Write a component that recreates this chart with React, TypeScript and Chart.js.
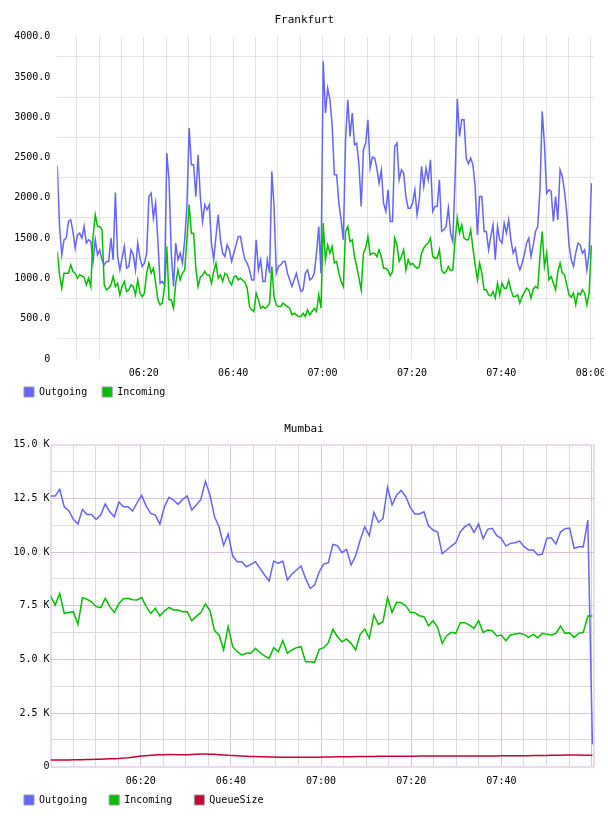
import React, { useEffect, useRef } from 'react';
import { Chart, registerables } from 'chart.js';

Chart.register(...registerables);

const FONT = '"DejaVu Sans Mono", monospace';

// ---------- Frankfurt (minutes after 06:00, 30 s samples) ----------
const fraStartMin = 0.65;
const fraStepMin = 0.5;
const fraOutgoing = [
  2398, 1645, 1293, 1479, 1500, 1707, 1727, 1583, 1376, 1541,
  1562, 1500, 1645, 1438, 1479, 1458, 1210, 1479, 1293, 1355,
  1231, 1169, 1210, 1210, 1500, 1231, 2067, 1272, 1106, 1251,
  1396, 1127, 1148, 1355, 1293, 1106, 1438, 1251, 1148, 1189,
  1313, 2017, 2059, 1748, 1934, 1479, 941, 962, 920, 2555,
  2224, 1313, 900, 1438, 1231, 1313, 1189, 1479, 1893, 2866,
  2410, 2410, 2017, 2535, 2017, 1707, 1914, 1852, 1914, 1438,
  1231, 1520, 1790, 1479, 1313, 1272, 1417, 1355, 1210, 1313,
  1417, 1520, 1520, 1355, 1231, 1189, 1106, 982, 982, 1479,
  1106, 1231, 962, 962, 1231, 1065, 2328, 1893, 1065, 1148,
  1169, 1210, 1210, 1065, 982, 900, 982, 1065, 941, 837,
  858, 1065, 1106, 982, 1003, 1065, 1313, 1645, 1065, 3694,
  3052, 3360, 3220, 2900, 2286, 2286, 1934, 1727, 1479, 2721,
  3218, 2762, 3052, 2659, 2680, 2410, 1893, 2597, 2680, 2969,
  2369, 2506, 2493, 2369, 2183, 2348, 1934, 1831, 2100, 1707,
  1707, 2638, 2680, 2224, 2348, 2307, 2017, 1872, 1872, 1934,
  2100, 1790, 1976, 2390, 2141, 2369, 2224, 2473, 1831, 1893,
  1893, 2224, 1583, 1603, 1645, 1872, 1562, 1458, 2224, 3230,
  2762, 2969, 2969, 2493, 2423, 2493, 2410, 2141, 1541, 2017,
  2017, 1583, 1583, 1355, 1520, 1665, 1231, 1645, 1479, 1438,
  1686, 1562, 1727, 1479, 1313, 1376, 1189, 1106, 1189, 1293,
  1438, 1500, 1272, 1417, 1583, 1645, 2100, 3073, 2659, 2059,
  2100, 2079, 1707, 2017, 1727, 2348, 2266, 2079, 1810, 1417,
  1231, 1148, 1313, 1438, 1417, 1313, 1355, 1106, 1313, 2180,
];
const fraIncoming = [
  1334, 1044, 879, 1065, 1065, 1065, 1169, 1086, 1065, 1003,
  1044, 1032, 1015, 920, 1003, 899, 1520, 1790, 1645, 1645,
  1603, 920, 858, 879, 920, 1024, 899, 941, 796, 899,
  962, 837, 858, 920, 899, 796, 982, 817, 775, 817,
  1065, 1189, 1065, 1127, 941, 734, 672, 693, 899, 1396,
  734, 734, 630, 941, 1106, 982, 1065, 1106, 1479, 1914,
  1562, 1562, 1127, 899, 1015, 1040, 1086, 1044, 1044, 941,
  1086, 1189, 1003, 1044, 962, 1065, 1044, 962, 920, 1015,
  1032, 982, 1003, 974, 949, 879, 651, 610, 589, 817,
  734, 630, 651, 630, 651, 693, 1148, 775, 672, 651,
  651, 693, 672, 651, 630, 548, 568, 548, 527, 527,
  568, 527, 610, 548, 589, 630, 589, 796, 630, 1686,
  1231, 1417, 1313, 1396, 1189, 1210, 1065, 962, 899, 1583,
  1645, 1458, 1479, 1272, 1148, 1003, 858, 1313, 1376, 1520,
  1293, 1313, 1313, 1272, 1355, 1272, 1127, 1127, 1098, 1032,
  1086, 1500, 1417, 1210, 1272, 1355, 1106, 1231, 1169, 1189,
  1148, 1127, 1148, 1313, 1376, 1417, 1438, 1500, 1272, 1251,
  1251, 1355, 1106, 1065, 1086, 1148, 1098, 1106, 1479, 1748,
  1562, 1665, 1500, 1479, 1479, 1603, 1376, 1169, 982, 1189,
  1065, 858, 858, 796, 784, 837, 755, 941, 796, 941,
  879, 879, 974, 858, 775, 775, 796, 693, 775, 825,
  879, 858, 755, 866, 899, 879, 1272, 1583, 1148, 1313,
  982, 1024, 941, 858, 1086, 1189, 1065, 1044, 920, 796,
  767, 817, 672, 817, 796, 858, 817, 672, 817, 1410,
];
const fraXTickMinutes = [5, 10, 15, 20, 25, 30, 35, 40, 45, 50, 55, 60, 65, 70, 75, 80, 85, 90, 95, 100, 105, 110, 115, 120];
const fraXLabelMinutes = [20, 40, 60, 80, 100, 120];
const fraYTickValues = [0, 250, 500, 750, 1000, 1250, 1500, 1750, 2000, 2250, 2500, 2750, 3000, 3250, 3500, 3750, 4000];
const fraYLabelValues = [0, 500, 1000, 1500, 2000, 2500, 3000, 3500, 4000];

// ---------- Mumbai (minutes after 06:00, ~1 min samples) ----------
const mumStartMin = 0;
const mumStepMin = 1.01;
const mumOutgoing = [
  12608, 12608, 12919, 12111, 11925, 11521, 11304, 11987, 11754, 11754,
  11521, 11723, 12236, 11878, 11645, 12329, 12111, 12111, 11909, 12298,
  12639, 12142, 11801, 11723, 11304, 12111, 12546, 12422, 12220, 12453,
  12608, 11956, 12189, 12453, 13292, 12655, 11645, 11180, 10310, 10838,
  9813, 9549, 9549, 9316, 9425, 9549, 9238, 8928, 8648, 9580,
  9471, 9580, 8695, 8974, 9161, 9347, 8773, 8306, 8462, 9083,
  9440, 9502, 10356, 10294, 9968, 10124, 9394, 9828, 10558, 11180,
  10760, 11847, 11381, 11552, 13012, 12189, 12655, 12872, 12577, 12080,
  11770, 11770, 11878, 11226, 11024, 10931, 9922, 10093, 10279, 10434,
  10946, 11180, 11304, 10915, 11304, 10620, 11055, 11102, 10760, 10636,
  10279, 10403, 10434, 10512, 10248, 10093, 10093, 9860, 9906, 10636,
  10667, 10372, 10931, 11086, 11117, 10170, 10248, 10248, 11490, 1040,
];
const mumIncoming = [
  7950, 7530, 8070, 7144, 7180, 7220, 6630, 7870, 7800, 7680,
  7455, 7410, 7840, 7455, 7190, 7600, 7820, 7850, 7780, 7770,
  7880, 7460, 7144, 7377, 7020, 7250, 7423, 7300, 7300, 7220,
  7220, 6800, 7000, 7180, 7580, 7270, 6340, 6134, 5436, 6523,
  5591, 5358, 5203, 5280, 5280, 5513, 5320, 5160, 5047, 5544,
  5358, 5870, 5280, 5436, 5544, 5590, 4892, 4892, 4861, 5466,
  5544, 5777, 6398, 6057, 5824, 5948, 5746, 5436, 6165, 6414,
  5979, 7066, 6631, 6755, 7870, 7190, 7656, 7640, 7501, 7190,
  7175, 7035, 6989, 6569, 6802, 6491, 5746, 6103, 6259, 6212,
  6709, 6709, 6600, 6445, 6802, 6259, 6367, 6336, 6088, 6134,
  5870, 6134, 6181, 6212, 6165, 6025, 6165, 6010, 6212, 6165,
  6134, 6212, 6554, 6212, 6243, 6025, 6212, 6259, 7020, 7020,
];
const mumQueueSize = [
  310, 310, 310, 312, 315, 318, 322, 326, 330, 335,
  342, 350, 358, 366, 375, 385, 400, 420, 445, 470,
  495, 515, 530, 545, 555, 560, 565, 565, 562, 560,
  562, 570, 580, 588, 590, 585, 575, 560, 545, 530,
  520, 510, 500, 490, 480, 472, 465, 458, 452, 448,
  445, 443, 442, 440, 440, 440, 440, 442, 443, 445,
  448, 452, 455, 458, 462, 465, 468, 470, 472, 475,
  478, 480, 483, 485, 488, 490, 490, 490, 490, 490,
  492, 494, 495, 496, 497, 497, 497, 497, 497, 497,
  497, 497, 497, 498, 498, 500, 500, 500, 502, 505,
  505, 505, 508, 510, 512, 515, 518, 520, 522, 525,
  528, 530, 535, 540, 545, 545, 540, 535, 530, 530,
];
const mumXTickMinutes = [0, 5, 10, 15, 20, 25, 30, 35, 40, 45, 50, 55, 60, 65, 70, 75, 80, 85, 90, 95, 100, 105, 110, 115, 120, 120.5];
const mumXLabelMinutes = [20, 40, 60, 80, 100];
const mumYTickValues = [0, 1250, 2500, 3750, 5000, 6250, 7500, 8750, 10000, 11250, 12500, 13750, 15000];
const mumYLabelValues = [0, 2500, 5000, 7500, 10000, 12500, 15000];

const BLUE = '#6464ff';
const GREEN = '#00c000';
const RED = '#cc0033';

function fmtTime(m: number): string {
  const total = Math.round(m);
  const h = 6 + Math.floor(total / 60);
  const mm = total % 60;
  return String(h).padStart(2, '0') + ':' + String(mm).padStart(2, '0');
}

function toPoints(values: number[], start: number, step: number) {
  return values.map((v, i) => ({ x: start + i * step, y: v }));
}

const legendLabels = (chart: any) =>
  chart.data.datasets.map((ds: any, i: number) => ({
    text: ds.label,
    fillStyle: ds.borderColor,
    strokeStyle: '#9a9a9a',
    lineWidth: 1,
    fontColor: '#000',
    hidden: false,
    datasetIndex: i,
  }));

// later series are painted over earlier ones
function lineDs(label: string, color: string, data: any[], order: number) {
  return {
    label,
    data,
    order,
    borderColor: color,
    backgroundColor: color,
    borderWidth: 1.5,
    pointRadius: 0,
    pointHoverRadius: 0,
    tension: 0,
    fill: false,
  };
}

function phantomRight(width: number) {
  return {
    type: 'linear',
    position: 'right',
    display: true,
    grid: { display: false, drawTicks: false },
    border: { display: false },
    ticks: { display: false },
    afterFit: (s: any) => {
      s.width = width;
    },
  };
}

// x axis keeps a short layout height so the legend sits close; its labels must not be clipped to it
function compactX(height: number) {
  return (s: any) => {
    s.height = height;
    s.paddingLeft = 0;
    s.paddingRight = 0;
    s._computeLabelArea = () => undefined;
  };
}

function frankfurtConfig(): any {
  const GRID = '#e4e4e4';
  return {
    type: 'line',
    data: {
      datasets: [
        lineDs('Outgoing', BLUE, toPoints(fraOutgoing, fraStartMin, fraStepMin), 3),
        lineDs('Incoming', GREEN, toPoints(fraIncoming, fraStartMin, fraStepMin), 2),
      ],
    },
    options: {
      responsive: false,
      devicePixelRatio: 1,
      animation: false,
      events: [],
      layout: { padding: { left: 9, right: 4.4, top: 0, bottom: 0 } },
      plugins: {
        title: {
          display: true,
          text: 'Frankfurt',
          color: '#000',
          font: { family: FONT, size: 11, weight: 'normal', lineHeight: 1.2 },
          padding: { top: 13.4, bottom: 10.1 },
        },
        legend: {
          display: true,
          position: 'bottom',
          align: 'start',
          labels: {
            boxWidth: 10,
            boxHeight: 10,
            padding: 15,
            color: '#000',
            font: { family: FONT, size: 10 },
            generateLabels: legendLabels,
          },
        },
        tooltip: { enabled: false },
      },
      scales: {
        x: {
          type: 'linear',
          min: 0.65,
          max: 120.74,
          afterBuildTicks: (s: any) => {
            s.ticks = fraXTickMinutes.map((v) => ({ value: v }));
          },
          ticks: {
            autoSkip: false,
            maxRotation: 0,
            padding: 8,
            color: '#000',
            font: { family: FONT, size: 10 },
            callback: (v: number) => (fraXLabelMinutes.includes(v) ? fmtTime(v) : ''),
          },
          grid: { color: GRID, drawTicks: false, lineWidth: 1 },
          border: { display: false },
          afterFit: compactX(13),
        },
        y: {
          type: 'linear',
          min: 0,
          max: 4000,
          afterBuildTicks: (s: any) => {
            s.ticks = fraYTickValues.map((v) => ({ value: v }));
          },
          ticks: {
            autoSkip: false,
            padding: 7,
            color: '#000',
            font: { family: FONT, size: 10 },
            callback: (v: number) =>
              fraYLabelValues.includes(v) ? (v === 0 ? '0' : v.toFixed(1)) : '',
          },
          grid: {
            drawTicks: false,
            color: (ctx: any) =>
              ctx.tick && !fraYLabelValues.includes(ctx.tick.value) ? GRID : 'rgba(0,0,0,0)',
          },
          border: { display: false },
          afterFit: (s: any) => {
            s.width = 48.3;
          },
        },
        yR: phantomRight(5.6),
      },
    },
  };
}

function mumbaiConfig(): any {
  const GRAY = '#dcdcdc';
  const PURPLE = '#dcc4e0';
  const EDGE = '#eadcf0';
  return {
    type: 'line',
    data: {
      datasets: [
        lineDs('Outgoing', BLUE, toPoints(mumOutgoing, mumStartMin, mumStepMin), 3),
        lineDs('Incoming', GREEN, toPoints(mumIncoming, mumStartMin, mumStepMin), 2),
        lineDs('QueueSize', RED, toPoints(mumQueueSize, mumStartMin, mumStepMin), 1),
      ],
    },
    options: {
      responsive: false,
      devicePixelRatio: 1,
      animation: false,
      events: [],
      layout: { padding: { left: 2, right: 2, top: 0, bottom: 0 } },
      plugins: {
        title: {
          display: true,
          text: 'Mumbai',
          color: '#000',
          font: { family: FONT, size: 11, weight: 'normal', lineHeight: 1.2 },
          padding: { top: 15.4, bottom: 9.1 },
        },
        legend: {
          display: true,
          position: 'bottom',
          align: 'start',
          labels: {
            boxWidth: 10,
            boxHeight: 10,
            padding: 22,
            color: '#000',
            font: { family: FONT, size: 10 },
            generateLabels: legendLabels,
          },
        },
        tooltip: { enabled: false },
      },
      scales: {
        x: {
          type: 'linear',
          min: 0,
          max: 120.5,
          afterBuildTicks: (s: any) => {
            s.ticks = mumXTickMinutes.map((v) => ({ value: v }));
          },
          ticks: {
            autoSkip: false,
            maxRotation: 0,
            padding: 9,
            color: '#000',
            font: { family: FONT, size: 10 },
            callback: (v: number) => (mumXLabelMinutes.includes(v) ? fmtTime(v) : ''),
          },
          grid: {
            drawTicks: false,
            color: (ctx: any) => {
              const v = ctx.tick ? ctx.tick.value : -1;
              if (v === 0 || v === 120.5) return EDGE;
              return v % 20 === 0 ? PURPLE : GRAY;
            },
            lineWidth: (ctx: any) => {
              const v = ctx.tick ? ctx.tick.value : -1;
              return v === 0 || v === 120.5 ? 2 : 1;
            },
          },
          border: { display: false },
          afterFit: compactX(6.3),
        },
        y: {
          type: 'linear',
          min: 0,
          max: 15000,
          afterBuildTicks: (s: any) => {
            s.ticks = mumYTickValues.map((v) => ({ value: v }));
          },
          ticks: {
            autoSkip: false,
            padding: 1,
            color: '#000',
            font: { family: FONT, size: 10 },
            callback: (v: number) =>
              mumYLabelValues.includes(v) ? (v === 0 ? '0' : (v / 1000).toFixed(1) + ' K') : '',
          },
          grid: {
            drawTicks: false,
            color: (ctx: any) => {
              const v = ctx.tick ? ctx.tick.value : -1;
              if (v === 0 || v === 15000) return EDGE;
              return mumYLabelValues.includes(v) ? PURPLE : GRAY;
            },
            lineWidth: (ctx: any) => {
              const v = ctx.tick ? ctx.tick.value : -1;
              return v === 0 || v === 15000 ? 2 : 1;
            },
          },
          border: { display: false },
          afterFit: (s: any) => {
            s.width = 48.6;
          },
        },
        yR: phantomRight(12.2),
      },
    },
  };
}

function ChartCanvas(props: { make: () => any; width: number; height: number; top: number }) {
  const ref = useRef<HTMLCanvasElement>(null);
  useEffect(() => {
    const chart = new Chart(ref.current as HTMLCanvasElement, props.make());
    return () => chart.destroy();
  }, []);
  return (
    <canvas
      ref={ref}
      width={props.width}
      height={props.height}
      style={{
        position: 'absolute',
        left: 0,
        top: props.top,
        width: props.width,
        height: props.height,
        display: 'block',
      }}
    />
  );
}

export default function App() {
  return (
    <div
      style={{
        position: 'absolute',
        left: 0,
        top: 0,
        width: 608,
        height: 816,
        background: '#fff',
        overflow: 'hidden',
      }}
    >
      <ChartCanvas make={frankfurtConfig} width={604} height={407} top={0} />
      <ChartCanvas make={mumbaiConfig} width={608} height={408} top={407} />
    </div>
  );
}
